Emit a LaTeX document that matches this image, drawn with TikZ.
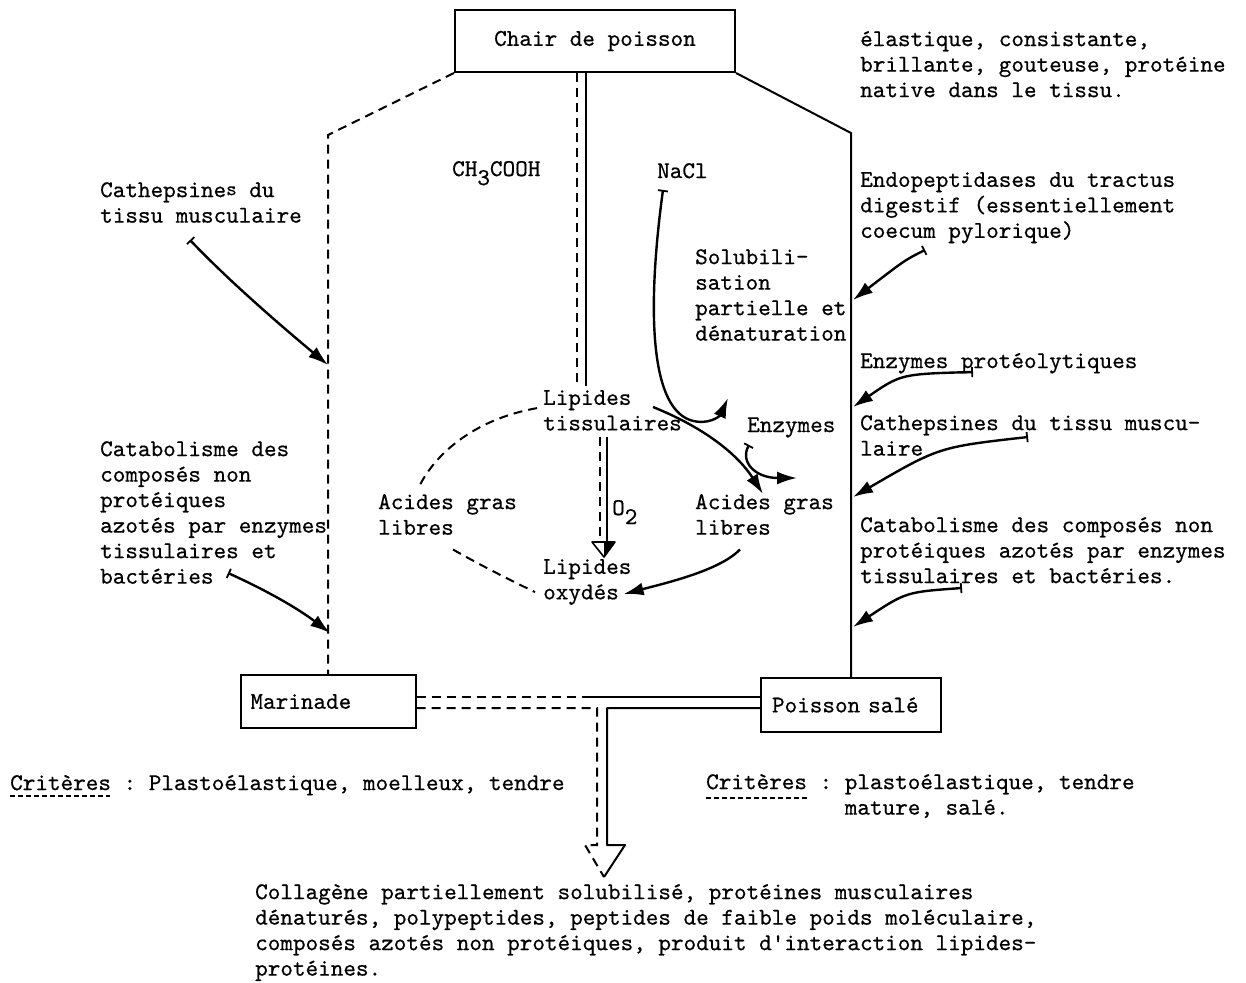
\documentclass[tikz,border=0pt]{standalone}
\usepackage{fontspec}
\usetikzlibrary{arrows.meta,calc}
\newfontfamily\diagfam{lmmono10-regular.otf}[FakeBold=0.5]
\newcommand{\diagtxt}{\diagfam\fontsize{24}{25.5}\selectfont\frenchspacing}
\newcommand{\lowsub}[1]{\raisebox{-9pt}{#1}}
\begin{document}
\begin{tikzpicture}[x=1pt,y=-1pt,
  box/.style={draw,line width=2pt,inner sep=0pt,font=\diagtxt},
  lbl/.style={anchor=north west,inner sep=0pt,align=left,font=\diagtxt,execute at begin node=\strut,yshift=-4pt},
  dl/.style={line width=2pt,dash pattern=on 9pt off 6pt},
  sl/.style={line width=2pt},
  ul/.style={line width=1.2pt,dash pattern=on 5pt off 3pt},
  arr/.style={line width=2.4pt,arrows={Bar[width=10pt,line width=1.8pt]-Latex[length=20pt,width=13pt]}},
  arrh/.style={line width=2.4pt,arrows={-Latex[length=20pt,width=13pt]}}]
\useasboundingbox (0,0) rectangle (1246,982);
\fill[white] (0,0) rectangle (1246,982);

% boxes
\node[box,minimum width=280pt,minimum height=62pt] (chair) at (595,41) {Chair de poisson};
\node[box,text width=155pt,inner xsep=10pt,minimum height=53pt,align=left] (mar) at (328,701.5) {Marinade};
\node[box,text width=158pt,inner xsep=11pt,minimum height=54pt,align=left] (sal) at (851,705) {Poisson salé};

% texts
\node[lbl] (top) at (860,27) {élastique, consistante,\\brillante, gouteuse, protéine\\native dans le tissu.};
\node[lbl] (ch) at (452,154) {CH\lowsub{3}COOH};
\node[lbl] (nacl) at (657,156) {NaCl};
\node[lbl] (sol) at (695,245) {Solubili-\\sation\\partielle et\\dénaturation};
\node[lbl] (lt) at (543,386) {Lipides\\tissulaires};
\node[lbl] (enz) at (747,410) {Enzymes};
\node[lbl] (agl) at (378,490) {Acides gras\\libres};
\node[lbl] (agr) at (695,490) {Acides gras\\libres};
\node[lbl] (o2) at (612,493) {O\lowsub{2}};
\node[lbl] (lo) at (543,555) {Lipides\\oxydés};
\node[lbl] (cathL) at (100,178) {Cathepsine{\raisebox{2pt}{\fontsize{20}{20}\selectfont s}} du\\tissu musculaire};
\node[lbl] (catabL) at (100,437) {Catabolisme des\\composés non\\protéiques\\azotés par enzymes\\tissulaires et\\bactéries};
\node[lbl] (endo) at (860,168) {Endopeptidases du tractus\\digestif (essentiellement\\coecum pylorique)};
\node[lbl] (enzp) at (860,346) {Enzymes protéolytiques};
\node[lbl] (cathR) at (860,411) {Cathepsines du tissu muscu-\\laire};
\node[lbl] (catabR) at (860,513) {Catabolisme des composés non\\protéiques azotés par enzymes\\tissulaires et bactéries.};
\node[lbl] (critL) at (10,768) {Critères : Plastoélastique, moelleux, tendre};
\node[lbl] (critR) at (706,770) {Critères : plastoélastique, tendre\\\phantom{Critères : }mature, salé.};
\node[lbl] (bot) at (255,880) {Collagène partiellement solubilisé, protéines musculaires\\dénaturés, polypeptides, peptides de faible poids moléculaire,\\composés azotés non protéiques, produit d\textquotesingle interaction lipides-\\protéines.};

% underlines
\draw[ul] (10,796) -- (110,796);
\draw[ul] (706,798) -- (808,798);

% outer frame lines
\coordinate (lb) at (328,135);
\coordinate (rb) at (851,133);
\draw[dl] (chair.south west) -- (lb) -- (mar.north);
\draw[sl] (chair.south east) -- (rb) -- (sal.north);

% central double line
\draw[dl] ($(chair.south)+(-18,0)$) -- ++(0,313);
\draw[sl] ($(chair.south)+(-9,0)$) -- ++(0,313);

% double arrow lipides tissulaires -> oxydes
\coordinate (d1) at (600,437);
\coordinate (d2) at (607,437);
\draw[dl] (d1) -- ++(0,105);
\draw[sl] (d2) -- ++(0,105);
\coordinate (tl) at (592,542);
\coordinate (tr) at (615,542);
\coordinate (tt) at (604,557);
\fill (604,542) -- (tr) -- (tt) -- cycle;
\draw[line width=1.6pt,line join=round] (tl) -- (tr) -- (tt) -- cycle;

% dashed cycle on the left
\draw[dl] ($(lt.west)+(-6,-6)$) .. controls (470,420) and (432,458) .. ($(agl.north west)+(40,-5)$);
\draw[dl] ($(agl.south west)+(75,7)$) .. controls (480,565) and (510,580) .. ($(lo.west)+(-8,9)$);

% right side of cycle
\draw[arrh] ($(lt.north east)+(-29,17)$) .. controls (710,430) and (740,458) .. ($(agr.north west)+(68,0)$);
\draw[arrh] ($(agr.south west)+(45,7)$) .. controls (720,570) and (670,582) .. ($(lo.east)+(-8,11)$);

% NaCl
\coordinate (nx) at (690,420);
\coordinate (nend) at (728,398);
\draw[arr] ($(nacl.south west)+(6,4)$) .. controls (648,300) and (648,405) .. (nx) .. controls (708,426) and (720,416) .. (nend);

% Enzymes
\coordinate (eend) at (797,478);
\draw[arr] ($(enz.south west)+(2,5)$) .. controls (740,462) and (755,478) .. (eend);

% left arrows
\coordinate (a1s) at (190,240);
\coordinate (a1e) at (328,365);
\draw[arr] (a1s) .. controls (228,280) and (280,325) .. (a1e);
\coordinate (a2s) at (228,573);
\coordinate (a2e) at (330,633);
\draw[arr] (a2s) .. controls (270,592) and (300,610) .. (a2e);

% right arrows
\coordinate (b1s) at (925,250);
\coordinate (b1e) at (853,300);
\draw[arr] (b1s) .. controls (905,260) .. (b1e);
\coordinate (b2s) at (973,372);
\coordinate (b2e) at (853,407);
\draw[arr] (b2s) .. controls (901,374) .. (b2e);
\coordinate (b3s) at (1028,437);
\coordinate (b3e) at (853,497);
\draw[arr] (b3s) .. controls (939,447) .. (b3e);
\coordinate (b4s) at (962,588);
\coordinate (b4e) at (853,627);
\draw[arr] (b4s) .. controls (906,592) .. (b4e);

% bottom connectors
\coordinate (j1) at (590,697);
\draw[dl] ($(mar.east)+(0,-4.5)$) -- (j1);
\draw[sl] (j1) -- ($(sal.west)+(0,-8)$);
\draw[dl] ($(mar.east)+(0,6.5)$) -| (597,845) -- (585,845) -- (604,877);
\draw[sl,line join=round] ($(sal.west)+(0,3)$) -| (607,845) -- (625,845) -- (604,877);
\end{tikzpicture}
\end{document}
